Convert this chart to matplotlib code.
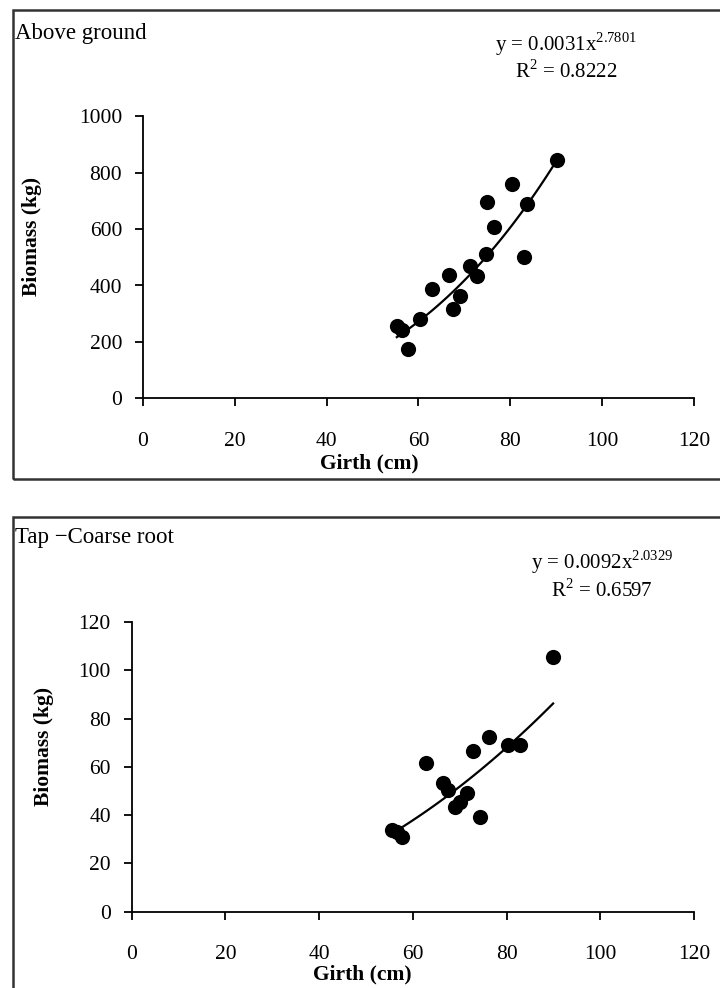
import numpy as np
import matplotlib
matplotlib.use("Agg")
import matplotlib.pyplot as plt
from matplotlib.patches import Rectangle

plt.rcParams['font.family'] = ['Liberation Serif', 'DejaVu Serif']
plt.rcParams['mathtext.fontset'] = 'custom'
plt.rcParams['mathtext.rm'] = 'Liberation Serif'

# ---- data: above ground ----
ag_girth = [55.3, 56.4, 57.8, 60.3, 62.9, 66.7, 67.6, 69.1, 71.2, 72.7,
            74.7, 75.0, 76.5, 80.3, 83.0, 83.7, 90.3]
ag_biomass = [256, 242, 174, 281, 388, 439, 317, 362, 469, 433,
              511, 695, 608, 761, 502, 689, 846]
ag_coef, ag_exp, ag_r2 = 0.0031, 2.7801, 0.8222

# ---- data: tap-coarse root ----
tc_girth = [55.5, 56.6, 57.6, 62.7, 66.5, 67.5, 69.0, 70.0, 71.5, 72.9,
            74.2, 76.3, 80.3, 82.8, 89.9]
tc_biomass = [33.8, 33.0, 30.8, 61.4, 53.2, 50.4, 43.5, 45.5, 49.0, 66.7,
              39.1, 72.5, 69.0, 69.0, 105.3]
tc_coef, tc_exp, tc_r2 = 0.0092, 2.0329, 0.6597

x_ticks = [0, 20, 40, 60, 80, 100, 120]
ag_yticks = [0, 200, 400, 600, 800, 1000]
tc_yticks = [0, 20, 40, 60, 80, 100, 120]

W, H = 720, 988
fig = plt.figure(figsize=(W / 100, H / 100), dpi=100)
fig.patch.set_facecolor('white')

FS = 15.5

def fx(px):
    return px / W

def fy(py):
    return 1 - py / H

# panel frames
for (top, bot) in [(10, 479), (517, 995)]:
    fig.patches.append(Rectangle((fx(13), fy(bot)), fx(730) - fx(13), fy(top) - fy(bot),
                                 transform=fig.transFigure, fill=False,
                                 edgecolor='#333333', linewidth=1.8))

def panel(rect, gx, by, coef, expo, r2, yticks, ylim, title, title_xy, eq_xy, ylab_x, xlab_y):
    ax = fig.add_axes(rect)
    ax.set_facecolor('none')
    ax.scatter(gx, by, s=120, color='black', marker='o', zorder=3, linewidths=0)
    xs = np.linspace(min(gx), max(gx), 100)
    ax.plot(xs, coef * xs ** expo, color='black', lw=1.6, zorder=2)
    ax.set_xlim(0, 120)
    ax.set_ylim(*ylim)
    ax.set_xticks(x_ticks)
    ax.set_yticks(yticks)
    ax.spines['top'].set_visible(False)
    ax.spines['right'].set_visible(False)
    for s in ['left', 'bottom']:
        ax.spines[s].set_linewidth(1.3)
    ax.tick_params(direction='out', length=6, width=1.3, labelsize=FS)
    ax.tick_params(axis='y', pad=9)
    ax.tick_params(axis='x', pad=18)
    fig.text(fx(title_xy[0]), fy(title_xy[1]), title, fontsize=16.5, ha='left', va='center')
    fig.text(fx(eq_xy[0]), fy(eq_xy[1]),
             r'y = %.4fx$^{%.4f}$' % (coef, expo), fontsize=15, ha='center', va='center')
    fig.text(fx(eq_xy[0]), fy(eq_xy[1] + 28),
             r'R$^{2}$ = %.4f' % r2, fontsize=15, ha='center', va='center')
    fig.text(fx(ylab_x), rect[1] + rect[3] * 0.5 + 0.021, 'Biomass (kg)', rotation=90,
             fontsize=FS, fontweight='bold', ha='center', va='center')
    fig.text(rect[0] + rect[2] * 0.41, fy(xlab_y), 'Girth (cm)', fontsize=FS,
             fontweight='bold', ha='center', va='center')
    return ax

panel([fx(143), fy(398.3), fx(693.8) - fx(143), fy(116.3) - fy(398.3)],
      ag_girth, ag_biomass, ag_coef, ag_exp, ag_r2, ag_yticks, (0, 1000),
      'Above ground', (15, 33), (566, 44), 32, 463)

panel([fx(131.7), fy(911.7), fx(694.2) - fx(131.7), fy(621.9) - fy(911.7)],
      tc_girth, tc_biomass, tc_coef, tc_exp, tc_r2, tc_yticks, (0, 120),
      'Tap \u2212Coarse root', (15, 538), (602, 562), 44, 974)

fig.savefig('out.png', dpi=100, facecolor='white')
